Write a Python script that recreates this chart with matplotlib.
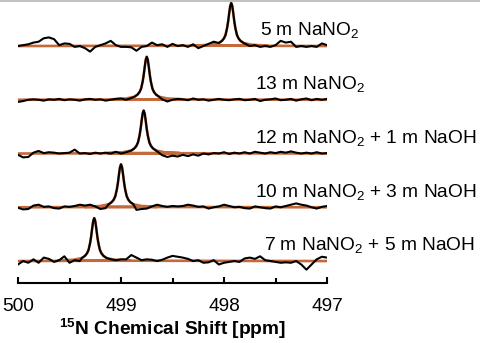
import numpy as np
import matplotlib
matplotlib.use("Agg")
import matplotlib.pyplot as plt
from matplotlib.lines import Line2D
from matplotlib.ticker import MultipleLocator

plt.rcParams['font.family'] = ['Liberation Sans', 'DejaVu Sans']
plt.rcParams['mathtext.fontset'] = 'custom'
plt.rcParams['mathtext.rm'] = 'Liberation Sans'
plt.rcParams['mathtext.bf'] = 'Liberation Sans:bold'

# spectra on a 0.05 ppm grid, from 500 down to 497 ppm (61 points each)
GRID = np.round(np.linspace(500.0, 497.0, 61), 3)

LABELS = [
    "5 m NaNO$_2$",
    "13 m NaNO$_2$",
    "12 m NaNO$_2$ + 1 m NaOH",
    "10 m NaNO$_2$ + 3 m NaOH",
    "7 m NaNO$_2$ + 5 m NaOH",
]
LABEL_X = [497.65, 497.70, 497.70, 497.70, 497.61]
CENTERS = [497.93, 498.75, 498.78, 499.00, 499.26]

# baseline noise of each spectrum (normalised to peak height = 1)
NOISE_5M = [0.00, 0.02, 0.04, 0.08, 0.10, 0.18, 0.20, 0.16, 0.02, 0.06,
            0.05, -0.02, 0.00, -0.05, -0.13, -0.02, 0.02, 0.06, 0.12, 0.02,
            -0.02, -0.02, -0.03, -0.11, -0.02, 0.00, 0.08, 0.02, 0.04, -0.02,
            0.05, 0.00, 0.02, -0.02, 0.04, -0.05, 0.00, 0.05, 0.10, 0.00,
            0.04, 0.00, 0.00, 0.00, 0.06, 0.00, 0.02, -0.02, 0.00, -0.02,
            0.02, 0.12, 0.08, 0.10, -0.02, 0.00, -0.02, 0.00, -0.02, 0.06,
            0.02]
NOISE_13M = [-0.05, -0.03, 0.00, 0.01, 0.00, -0.02, 0.01, 0.00, 0.02, -0.01,
             0.01, 0.00, -0.02, 0.01, 0.02, 0.00, 0.01, -0.02, 0.00, 0.02,
             0.03, 0.00, 0.04, 0.05, 0.00, 0.00, 0.00, 0.00, 0.01, -0.04,
             0.00, 0.02, 0.01, -0.01, 0.03, 0.00, 0.01, -0.02, 0.00, 0.02,
             0.00, -0.01, 0.01, 0.02, -0.01, 0.00, 0.02, -0.03, 0.00, 0.01,
             0.03, -0.01, 0.00, 0.02, -0.02, 0.01, 0.03, -0.01, 0.02, 0.00,
             0.02]
NOISE_12M = [-0.03, -0.09, -0.08, 0.02, 0.06, 0.01, 0.03, 0.02, 0.00, 0.01,
             0.02, 0.09, 0.00, 0.01, -0.01, 0.02, 0.00, 0.02, 0.00, 0.04,
             0.00, 0.03, 0.02, 0.00, 0.00, 0.00, 0.00, -0.02, -0.04, -0.08,
             -0.05, -0.07, -0.03, -0.06, -0.02, -0.05, 0.00, -0.02, 0.01, 0.00,
             0.03, -0.01, 0.02, 0.00, 0.03, 0.00, 0.04, 0.02, 0.00, 0.03,
             0.01, 0.04, 0.02, 0.05, 0.02, 0.00, 0.02, 0.00, 0.03, 0.00,
             0.01]
NOISE_10M = [-0.01, -0.05, -0.04, 0.04, 0.06, 0.01, 0.02, -0.02, -0.03, 0.02,
             0.01, 0.03, 0.06, 0.04, 0.06, 0.02, -0.04, -0.02, 0.00, 0.00,
             0.00, 0.00, 0.00, -0.06, -0.04, -0.03, 0.02, 0.06, 0.03, 0.01,
             0.03, 0.02, 0.03, 0.06, 0.04, 0.01, 0.02, -0.03, 0.00, 0.02,
             0.06, 0.03, 0.00, 0.01, -0.02, -0.03, 0.02, 0.00, -0.02, -0.03,
             0.02, 0.00, 0.03, 0.06, 0.09, 0.06, 0.04, 0.00, -0.03, 0.01,
             0.03]
NOISE_7M = [-0.08, 0.00, -0.04, 0.04, -0.04, 0.08, 0.05, -0.02, 0.02, 0.11,
            -0.04, 0.02, 0.00, 0.00, 0.00, 0.00, 0.00, 0.00, 0.04, 0.02,
            0.04, 0.04, 0.14, 0.08, 0.02, 0.04, 0.03, 0.00, 0.03, 0.08,
            0.12, 0.10, 0.08, 0.05, 0.00, 0.02, -0.04, -0.03, 0.02, -0.08,
            -0.04, -0.02, 0.00, -0.02, 0.06, 0.08, 0.05, 0.11, 0.02, 0.00,
            -0.02, -0.04, -0.03, -0.04, 0.00, -0.08, -0.20, -0.08, 0.04, 0.10,
            0.08]
NOISE = [NOISE_5M, NOISE_13M, NOISE_12M, NOISE_10M, NOISE_7M]

# line shape of the 15N resonance (offset from centre in ppm, height)
PEAK_OFFSET = [-0.35, -0.20, -0.12, -0.09, -0.07, -0.055, -0.04, -0.03, -0.02, -0.01, 0.0,
               0.01, 0.02, 0.03, 0.04, 0.055, 0.07, 0.09, 0.12, 0.20, 0.35]
PEAK_SHAPE = [0.01, 0.03, 0.07, 0.12, 0.18, 0.26, 0.42, 0.57, 0.76, 0.93, 1.0,
              0.93, 0.76, 0.57, 0.42, 0.26, 0.18, 0.12, 0.07, 0.03, 0.01]

STEP = 1.25
FIT_COLOR = '#c4693a'
FS = 13.8

fig = plt.figure(figsize=(4.8, 3.43), dpi=100)
ax = fig.add_axes([0.0375, 0.175, 0.6438, 0.825])

po = np.array(PEAK_OFFSET)
ps = np.array(PEAK_SHAPE)
n = len(LABELS)
for k in range(n):
    off = (n - 1 - k) * STEP
    c = CENTERS[k]
    noise = np.array(NOISE[k])

    # fitted line
    fx = np.concatenate([[500.0], c + po, [497.0]])
    fy = np.concatenate([[0.0], ps, [0.0]])
    ax.plot(fx, fy + off, color=FIT_COLOR, lw=1.9, solid_capstyle='butt', zorder=2)

    # measured spectrum: baseline noise away from the peak, peak shape near it
    inner = np.abs(po) <= 0.121
    keep = np.abs(GRID - c) > 0.13
    dx = np.concatenate([GRID[keep], c + po[inner]])
    dy = np.concatenate([noise[keep], ps[inner]])
    order = np.argsort(dx)[::-1]
    ax.plot(dx[order], dy[order] + off, color='black', lw=1.5, zorder=3)

    ax.text(LABEL_X[k], off + 0.23, LABELS[k], fontsize=FS, ha='left',
            va='baseline', color='black')

ax.set_xlim(500, 497)
ax.set_ylim(-0.51, (n - 1) * STEP + 1.07)
ax.xaxis.set_major_locator(MultipleLocator(1))
ax.xaxis.set_minor_locator(MultipleLocator(0.5))
ax.tick_params(axis='x', which='major', direction='in', length=4, width=1.5,
               labelsize=FS, pad=11)
ax.tick_params(axis='x', which='minor', direction='in', length=3.5, width=1.5)
ax.set_yticks([])
for side in ['left', 'right', 'top']:
    ax.spines[side].set_visible(False)
ax.spines['bottom'].set_linewidth(1.5)
ax.patch.set_alpha(0)
ax.set_xlabel(r'$^{\mathbf{15}}$N Chemical Shift [ppm]', fontsize=FS, fontweight='bold',
              labelpad=0.5)

fig.add_artist(Line2D([0, 1], [0.998, 0.998], color='#b5b5b5', lw=1.2,
                      transform=fig.transFigure))

fig.savefig('out.png', dpi=100)
